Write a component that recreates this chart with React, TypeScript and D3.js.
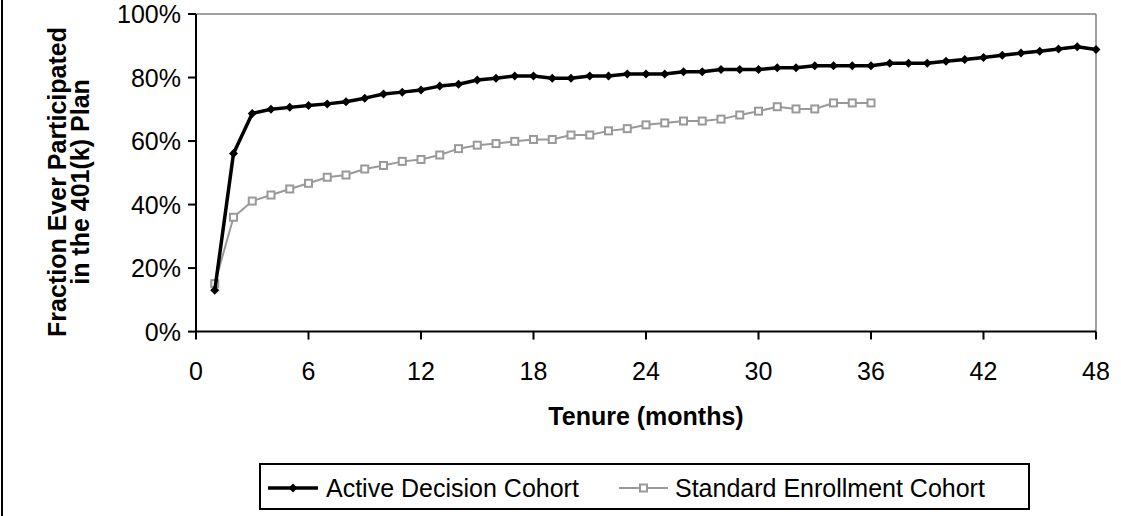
import React from "react";
import * as d3 from "d3";

const months: number[] = [
  1, 2, 3, 4, 5, 6, 7, 8, 9, 10, 11, 12, 13, 14, 15, 16, 17, 18, 19, 20, 21, 22, 23, 24,
  25, 26, 27, 28, 29, 30, 31, 32, 33, 34, 35, 36, 37, 38, 39, 40, 41, 42, 43, 44, 45, 46, 47, 48,
];

const activeDecision: number[] = [
  13.0, 56.1, 68.7, 70.0, 70.6, 71.2, 71.7, 72.4, 73.5, 74.8, 75.4, 76.1, 77.3, 77.9, 79.2, 79.8,
  80.5, 80.5, 79.8, 79.8, 80.5, 80.5, 81.1, 81.1, 81.1, 81.8, 81.8, 82.5, 82.5, 82.5, 83.1, 83.1,
  83.7, 83.7, 83.7, 83.7, 84.5, 84.5, 84.5, 85.1, 85.7, 86.3, 87.0, 87.7, 88.3, 89.0, 89.7, 88.8,
];

const standardEnrollment: number[] = [
  15.1, 36.0, 41.1, 43.0, 44.9, 46.7, 48.6, 49.3, 51.2, 52.3, 53.6, 54.2, 55.6, 57.6, 58.7, 59.2,
  59.9, 60.5, 60.5, 61.9, 61.9, 63.2, 63.9, 65.1, 65.7, 66.3, 66.3, 66.9, 68.2, 69.4, 70.8, 70.1,
  70.1, 72.0, 72.0, 72.0,
];

const xTicks: number[] = [0, 6, 12, 18, 24, 30, 36, 42, 48];
const yTicks: number[] = [0, 20, 40, 60, 80, 100];

const seriesNames = ["Active Decision Cohort", "Standard Enrollment Cohort"];
const xTitle = "Tenure (months)";
const yTitleLines = ["Fraction Ever Participated", "in the 401(k) Plan"];

const W = 1121;
const H = 516;
const FONT = "'Liberation Sans', Arial, Helvetica, sans-serif";
const GRAY = "#999999";

export default function App() {
  const x = d3.scaleLinear().domain([0, 48]).range([196, 1096]);
  const y = d3.scaleLinear().domain([0, 100]).range([331.6, 14]);

  const activePts = months.map((m, i) => [x(m), y(activeDecision[i])] as [number, number]);
  const stdPts = standardEnrollment.map((v, i) => [x(months[i]), y(v)] as [number, number]);
  const line = d3.line<[number, number]>();

  const x0 = x(0), x1 = x(48), yb = y(0), yt = y(100);
  const diamond = (cx: number, cy: number, r: number) =>
    `M${cx},${cy - r}L${cx + r},${cy}L${cx},${cy + r}L${cx - r},${cy}Z`;

  return (
    <svg
      width={W}
      height={H}
      style={{ position: "absolute", left: 0, top: 0, background: "#fff" }}
      fontFamily={FONT}
    >
      <rect x={0} y={0} width={W} height={H} fill="#fff" />
      <line x1={2} y1={0} x2={2} y2={H} stroke="#000" strokeWidth={2} />

      {/* plot frame top/right */}
      <line x1={x0} y1={yt} x2={x1} y2={yt} stroke="#808080" strokeWidth={1.5} />
      <line x1={x1} y1={yt} x2={x1} y2={yb} stroke="#808080" strokeWidth={1.5} />

      {/* axes */}
      <line x1={x0} y1={yt} x2={x0} y2={yb} stroke="#000" strokeWidth={2} />
      <line x1={x0} y1={yb} x2={x1} y2={yb} stroke="#000" strokeWidth={2} />
      {yTicks.map((t) => (
        <g key={"y" + t}>
          <line x1={x0 - 8} y1={y(t)} x2={x0} y2={y(t)} stroke="#000" strokeWidth={2} />
          <text x={181} y={y(t)} dy="0.36em" textAnchor="end" fontSize={25} fill="#000">
            {t + "%"}
          </text>
        </g>
      ))}
      {xTicks.map((t) => (
        <g key={"x" + t}>
          <line x1={x(t)} y1={yb} x2={x(t)} y2={yb + 8} stroke="#000" strokeWidth={2} />
          <text x={x(t)} y={380} textAnchor="middle" fontSize={25} fill="#000">
            {t}
          </text>
        </g>
      ))}

      {/* titles */}
      <text x={646} y={425} textAnchor="middle" fontSize={25} fontWeight="bold" fill="#000">
        {xTitle}
      </text>
      <g transform="translate(0,182) rotate(-90)">
        <text x={0} y={66} textAnchor="middle" fontSize={25} fontWeight="bold" fill="#000">
          {yTitleLines[0]}
        </text>
        <text x={0} y={89} textAnchor="middle" fontSize={25} fontWeight="bold" fill="#000">
          {yTitleLines[1]}
        </text>
      </g>

      {/* series */}
      <path d={line(stdPts) || ""} fill="none" stroke={GRAY} strokeWidth={2} />
      {stdPts.map((p, i) => (
        <rect key={"s" + i} x={p[0] - 3.5} y={p[1] - 3.5} width={7} height={7} fill="#fff" stroke={GRAY} strokeWidth={2} />
      ))}
      <path d={line(activePts) || ""} fill="none" stroke="#000" strokeWidth={3.5} strokeLinejoin="round" />
      {activePts.map((p, i) => (
        <path key={"a" + i} d={diamond(p[0], p[1], 4.5)} fill="#000" />
      ))}

      {/* legend */}
      <rect x={260} y={464} width={769} height={45} fill="#fff" stroke="#000" strokeWidth={2} />
      <line x1={268} y1={488} x2={318} y2={488} stroke="#000" strokeWidth={3.5} />
      <path d={diamond(293, 488, 4.5)} fill="#000" />
      <text x={326} y={497} fontSize={25} fill="#000">{seriesNames[0]}</text>
      <line x1={619} y1={488} x2={668} y2={488} stroke={GRAY} strokeWidth={2} />
      <rect x={643.5 - 3.5} y={488 - 3.5} width={7} height={7} fill="#fff" stroke={GRAY} strokeWidth={2} />
      <text x={675} y={497} fontSize={25} fill="#000">{seriesNames[1]}</text>
    </svg>
  );
}
